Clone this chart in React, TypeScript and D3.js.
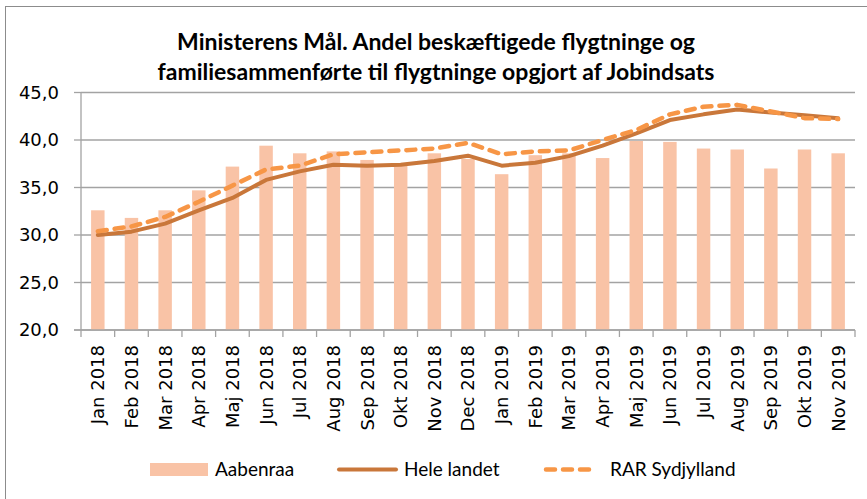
import React from "react";
import * as d3 from "d3";

const categories = [
  "Jan 2018", "Feb 2018", "Mar 2018", "Apr 2018", "Maj 2018", "Jun 2018",
  "Jul 2018", "Aug 2018", "Sep 2018", "Okt 2018", "Nov 2018", "Dec 2018",
  "Jan 2019", "Feb 2019", "Mar 2019", "Apr 2019", "Maj 2019", "Jun 2019",
  "Jul 2019", "Aug 2019", "Sep 2019", "Okt 2019", "Nov 2019",
];

const aabenraa = [
  32.6, 31.8, 32.6, 34.7, 37.2, 39.4, 38.6, 38.8, 37.9, 37.5, 38.6, 38.0,
  36.4, 38.4, 38.6, 38.1, 39.9, 39.8, 39.1, 39.0, 37.0, 39.0, 38.6,
];

const heleLandet = [
  30.0, 30.35, 31.2, 32.6, 33.9, 35.8, 36.7, 37.4, 37.3, 37.4, 37.8, 38.35,
  37.3, 37.6, 38.3, 39.4, 40.7, 42.1, 42.7, 43.2, 42.9, 42.6, 42.3,
];

const rarSydjylland = [
  30.4, 30.9, 31.9, 33.5, 35.2, 36.9, 37.3, 38.5, 38.7, 38.9, 39.1, 39.7,
  38.5, 38.8, 38.9, 40.0, 41.05, 42.7, 43.5, 43.7, 43.0, 42.3, 42.2,
];

const yTicks = [20, 25, 30, 35, 40, 45];
const titleLines = [
  "Ministerens Mål. Andel beskæftigede flygtninge og",
  "familiesammenførte til flygtninge opgjort af Jobindsats",
];
const seriesNames = ["Aabenraa", "Hele landet", "RAR Sydjylland"];

const W = 867;
const H = 499;
const left = 81;
const right = 855;
const top = 92.5;
const bottom = 330;

const barColor = "#F9C3A6";
const heleColor = "#C9773A";
const rarColor = "#F79646";
const gridColor = "#A3A3A3";

export default function App() {
  const x = d3.scaleBand<string>().domain(categories).range([left, right]).paddingInner(0.6).paddingOuter(0.3);
  const xc = (i: number) => (x(categories[i]) as number) + x.bandwidth() / 2;
  const step = (right - left) / categories.length;
  const y = d3.scaleLinear().domain([20, 45]).range([bottom, top]);
  const line = d3
    .line<number>()
    .x((_, i) => xc(i))
    .y((d) => y(d));

  const fmt = (v: number) => v.toFixed(1).replace(".", ",");

  return (
    <svg
      width={W}
      height={H}
      style={{ position: "absolute", left: 0, top: 0, background: "#fff" }}
    >
      <rect x={5.5} y={6.5} width={900} height={600} fill="#fff" stroke="#8C8C8C" strokeWidth={1} />
      {titleLines.map((t, i) => (
        <text
          key={i}
          x={436}
          y={50 + i * 30}
          textAnchor="middle"
          fontFamily="Lato, 'Open Sans', sans-serif"
          fontWeight={700}
          fontSize={23}
          fill="#000"
        >
          {t}
        </text>
      ))}
      {/* gridlines */}
      {yTicks.map((t) => (
        <line key={t} x1={left} x2={right} y1={y(t)} y2={y(t)} stroke={gridColor} strokeWidth={1.3} />
      ))}
      {/* y axis */}
      <line x1={left} x2={left} y1={top} y2={bottom} stroke={gridColor} strokeWidth={1.3} />
      {yTicks.map((t) => (
        <g key={"yt" + t}>
          <line x1={left - 7} x2={left} y1={y(t)} y2={y(t)} stroke={gridColor} strokeWidth={1.3} />
          <text
            x={left - 22}
            y={y(t)}
            dy="0.36em"
            textAnchor="end"
            fontFamily="'DejaVu Sans', Verdana, sans-serif"
            fontSize={18}
            fill="#000"
          >
            {fmt(t)}
          </text>
        </g>
      ))}
      {/* bars */}
      {aabenraa.map((v, i) => (
        <rect
          key={"b" + i}
          x={x(categories[i])}
          y={y(v)}
          width={x.bandwidth()}
          height={bottom - y(v)}
          fill={barColor}
        />
      ))}
      {/* x axis */}
      <line x1={left - 7} x2={right} y1={bottom} y2={bottom} stroke={gridColor} strokeWidth={1.3} />
      {d3.range(categories.length + 1).map((i) => (
        <line
          key={"xt" + i}
          x1={left + i * step}
          x2={left + i * step}
          y1={bottom}
          y2={bottom + 7}
          stroke={gridColor}
          strokeWidth={1.3}
        />
      ))}
      {categories.map((c, i) => (
        <text
          key={"xl" + i}
          transform={`translate(${xc(i)},${bottom + 15}) rotate(-90)`}
          textAnchor="end"
          dy="0.36em"
          fontFamily="'DejaVu Sans', Verdana, sans-serif"
          fontSize={18}
          fill="#000"
        >
          {c}
        </text>
      ))}
      {/* lines */}
      <path d={line(heleLandet) || ""} fill="none" stroke={heleColor} strokeWidth={4} strokeLinejoin="round" strokeLinecap="round" />
      <path
        d={line(rarSydjylland) || ""}
        fill="none"
        stroke={rarColor}
        strokeWidth={4.5}
        strokeDasharray="9 8"
        strokeLinecap="round"
        strokeLinejoin="round"
      />
      {/* legend */}
      <rect x={150} y={463} width={58} height={13} fill={barColor} />
      <text x={215} y={476} fontFamily="Lato, sans-serif" fontSize={19} fill="#000">
        {seriesNames[0]}
      </text>
      <line x1={339} x2={396} y1={469.5} y2={469.5} stroke={heleColor} strokeWidth={4} strokeLinecap="round" />
      <text x={404} y={476} fontFamily="Lato, sans-serif" fontSize={19} fill="#000">
        {seriesNames[1]}
      </text>
      <line
        x1={546}
        x2={596}
        y1={469.5}
        y2={469.5}
        stroke={rarColor}
        strokeWidth={4.5}
        strokeDasharray="9 8"
        strokeLinecap="round"
      />
      <text x={610} y={476} fontFamily="Lato, sans-serif" fontSize={19} fill="#000">
        {seriesNames[2]}
      </text>
    </svg>
  );
}
